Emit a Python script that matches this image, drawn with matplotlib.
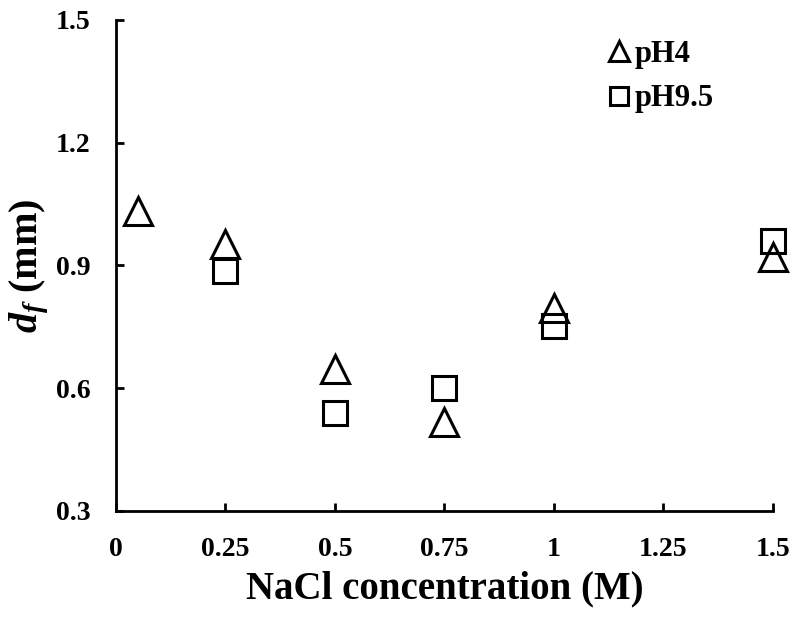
import matplotlib
matplotlib.use('Agg')
import matplotlib.pyplot as plt

# NaCl concentration (M) and floc diameter d_f (mm)
x_ph4 = [0.05, 0.25, 0.5, 0.75, 1.0, 1.5]
y_ph4 = [1.033, 0.953, 0.647, 0.517, 0.795, 0.92]
x_ph95 = [0.25, 0.5, 0.75, 1.0, 1.5]
y_ph95 = [0.887, 0.54, 0.6, 0.751, 0.96]

xticks = [0, 0.25, 0.5, 0.75, 1, 1.25, 1.5]
xtick_labels = ['0', '0.25', '0.5', '0.75', '1', '1.25', '1.5']
yticks = [0.3, 0.6, 0.9, 1.2, 1.5]

plt.rcParams['font.family'] = ['Liberation Serif', 'DejaVu Serif']
plt.rcParams['font.weight'] = 'bold'
plt.rcParams['mathtext.fontset'] = 'custom'
plt.rcParams['mathtext.it'] = 'Liberation Serif:bold:italic'
plt.rcParams['mathtext.rm'] = 'Liberation Serif:bold'

fig = plt.figure(figsize=(7.96, 6.23), dpi=100)
ax = fig.add_axes([0.1457, 0.1798, 0.971 - 0.1457, 0.9679 - 0.1798])

ax.plot(x_ph4, y_ph4, linestyle='none', marker='^', markersize=19.5,
        markerfacecolor='none', markeredgecolor='black', markeredgewidth=2.2,
        label='pH4', clip_on=False)
ax.plot(x_ph95, y_ph95, linestyle='none', marker='s', markersize=17.5,
        markerfacecolor='none', markeredgecolor='black', markeredgewidth=2.2,
        label='pH9.5', clip_on=False)

ax.set_xlim(0, 1.5)
ax.set_ylim(0.3, 1.5)
ax.set_xticks(xticks)
ax.set_xticklabels(xtick_labels)
ax.set_yticks(yticks)
ax.set_yticklabels([f'{v:.1f}' for v in yticks])

for side in ['top', 'right']:
    ax.spines[side].set_visible(False)
for side in ['left', 'bottom']:
    ax.spines[side].set_linewidth(2)

ax.tick_params(axis='both', direction='in', length=6, width=2, labelsize=20)
ax.tick_params(axis='x', pad=19)
ax.tick_params(axis='y', pad=18)

ax.set_xlabel('NaCl concentration (M)', fontsize=28, fontweight='bold', labelpad=6)
ax.set_ylabel(r'$d_f$ (mm)', fontsize=29, fontweight='bold', labelpad=4)

ax.legend(loc='upper left', bbox_to_anchor=(0.752, 0.959), frameon=False,
          fontsize=22, markerscale=0.72, handlelength=0.6, handletextpad=0.2,
          labelspacing=0.5, borderaxespad=0, borderpad=0)

fig.savefig('out.png', dpi=100)
